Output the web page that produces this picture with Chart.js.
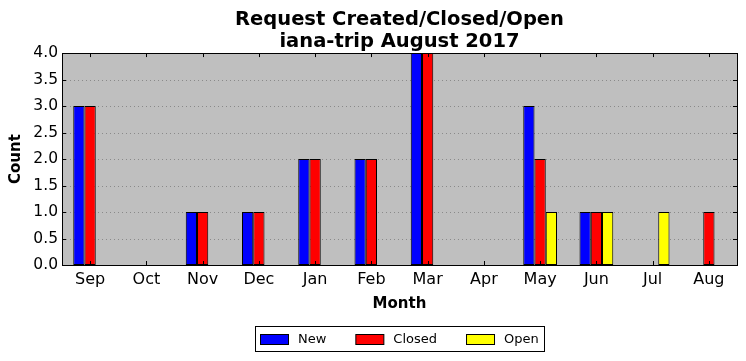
<!DOCTYPE html>
<html>
<head>
<meta charset="utf-8">
<script src="https://cdn.jsdelivr.net/npm/chart.js@4/dist/chart.umd.min.js"></script>
<style>
  html, body { margin: 0; padding: 0; background: #fff; }
  #wrap { width: 746px; height: 361px; }
</style>
</head>
<body>
<div id="wrap"><canvas id="chart" width="746" height="361"></canvas></div>
<script>
// Data
const months = ['Sep', 'Oct', 'Nov', 'Dec', 'Jan', 'Feb', 'Mar', 'Apr', 'May', 'Jun', 'Jul', 'Aug'];
const newCounts = [3, 0, 1, 1, 2, 2, 4, 0, 3, 1, 0, 0];
const closedCounts = [3, 0, 1, 1, 2, 2, 4, 0, 2, 1, 0, 1];
const openCounts = [0, 0, 0, 0, 0, 0, 0, 0, 1, 1, 1, 0];
const yTicks = [0, 0.5, 1, 1.5, 2, 2.5, 3, 3.5, 4];

const FONT = 'DejaVu Sans';

// gray plot background, black frame, inward ticks, boxed legend
const framePlugin = {
    id: 'frame',
    beforeDatasetsDraw(chart) {
        const a = chart.chartArea;
        const ctx = chart.ctx;
        ctx.save();
        ctx.fillStyle = '#bfbfbf';
        ctx.fillRect(a.left, a.top, a.right - a.left, a.bottom - a.top);
        // dotted grid
        ctx.strokeStyle = '#8a8a8a';
        ctx.lineWidth = 1;
        ctx.setLineDash([1, 3]);
        const y = chart.scales.y;
        yTicks.forEach(v => {
            if (v === 0 || v === 4) return;
            const py = Math.round(y.getPixelForValue(v)) + 0.5;
            ctx.beginPath();
            ctx.moveTo(a.left, py);
            ctx.lineTo(a.right, py);
            ctx.stroke();
        });
        ctx.restore();
    },
    afterDatasetsDraw(chart) {
        const a = chart.chartArea;
        const ctx = chart.ctx;
        const x = chart.scales.x;
        const y = chart.scales.y;
        ctx.save();
        ctx.strokeStyle = '#000';
        ctx.lineWidth = 1;
        ctx.beginPath();
        yTicks.forEach(v => {
            const py = Math.round(y.getPixelForValue(v)) + 0.5;
            ctx.moveTo(a.left, py); ctx.lineTo(a.left + 4, py);
            ctx.moveTo(a.right, py); ctx.lineTo(a.right - 4, py);
        });
        months.forEach((m, i) => {
            const px = Math.round(x.getPixelForValue(i)) + 0.5;
            ctx.moveTo(px, a.top); ctx.lineTo(px, a.top + 4);
            ctx.moveTo(px, a.bottom); ctx.lineTo(px, a.bottom - 4);
        });
        ctx.stroke();
        ctx.strokeRect(Math.round(a.left) + 0.5, Math.round(a.top) + 0.5,
            Math.round(a.right - a.left), Math.round(a.bottom - a.top));
        ctx.restore();
    },
    afterDraw(chart) {
        // legend below the x axis title, centred on the plot
        const a = chart.chartArea;
        const ctx = chart.ctx;
        const sets = chart.data.datasets;
        ctx.save();
        ctx.font = '13px ' + FONT;
        const boxW = 28, boxH = 10, textGap = 10, itemGap = 29, margin = 5;
        const widths = sets.map(ds => boxW + textGap + ctx.measureText(ds.label).width);
        const total = widths.reduce((s, w) => s + w, 0) + itemGap * (sets.length - 1) + margin * 2;
        const left = Math.round((a.left + a.right) / 2 - total / 2);
        const top = 326, height = 25;
        const cy = top + height / 2;
        ctx.strokeStyle = '#000';
        ctx.lineWidth = 1;
        ctx.strokeRect(left + 0.5, top + 0.5, Math.round(total), height);
        let cx = left + margin;
        sets.forEach((ds, i) => {
            const by = Math.round(cy - boxH / 2) + 0.5;
            ctx.fillStyle = ds.backgroundColor;
            ctx.fillRect(cx + 0.5, by, boxW, boxH);
            ctx.strokeRect(cx + 0.5, by, boxW, boxH);
            ctx.fillStyle = '#000';
            ctx.textBaseline = 'middle';
            ctx.fillText(ds.label, cx + boxW + textGap, cy + 1);
            cx += widths[i] + itemGap;
        });
        ctx.restore();
    }
};

new Chart(document.getElementById('chart'), {
    type: 'bar',
    data: {
        labels: months,
        datasets: [
            { label: 'New', data: newCounts, backgroundColor: '#0000ff' },
            { label: 'Closed', data: closedCounts, backgroundColor: '#ff0000' },
            { label: 'Open', data: openCounts, backgroundColor: '#ffff00' }
        ]
    },
    options: {
        responsive: false,
        animation: false,
        layout: { padding: { left: 0, right: 9, top: 0, bottom: 48 } },
        datasets: {
            bar: {
                categoryPercentage: 0.6,
                barPercentage: 1.0,
                borderColor: '#000',
                borderWidth: 1,
                borderSkipped: false
            }
        },
        plugins: {
            title: {
                display: true,
                fullSize: false,
                text: ['Request Created/Closed/Open', 'iana-trip August 2017'],
                color: '#000',
                font: { family: FONT, size: 19.5, weight: 'bold', lineHeight: 1.13 },
                padding: { top: 9, bottom: 0 }
            },
            legend: { display: false },
            tooltip: { enabled: false }
        },
        scales: {
            x: {
                grid: { display: false, drawTicks: false },
                border: { display: false },
                ticks: { color: '#000', font: { family: FONT, size: 16 }, padding: 5 },
                title: {
                    display: true, text: 'Month', color: '#000',
                    font: { family: FONT, size: 15, weight: 'bold' }, padding: { top: 1, bottom: 0 }
                },
                afterFit(scale) { scale.height = 48; }
            },
            y: {
                min: 0,
                max: 4,
                grid: { display: false, drawTicks: false },
                border: { display: false },
                afterBuildTicks(scale) { scale.ticks = yTicks.map(v => ({ value: v })); },
                ticks: {
                    color: '#000',
                    font: { family: FONT, size: 15.5 },
                    padding: 4,
                    callback: v => v.toFixed(1)
                },
                title: {
                    display: true, text: 'Count', color: '#000',
                    font: { family: FONT, size: 15, weight: 'bold' }, padding: { top: 7, bottom: 0 }
                },
                afterFit(scale) { scale.width = 62; }
            }
        }
    },
    plugins: [framePlugin]
});
</script>
</body>
</html>
